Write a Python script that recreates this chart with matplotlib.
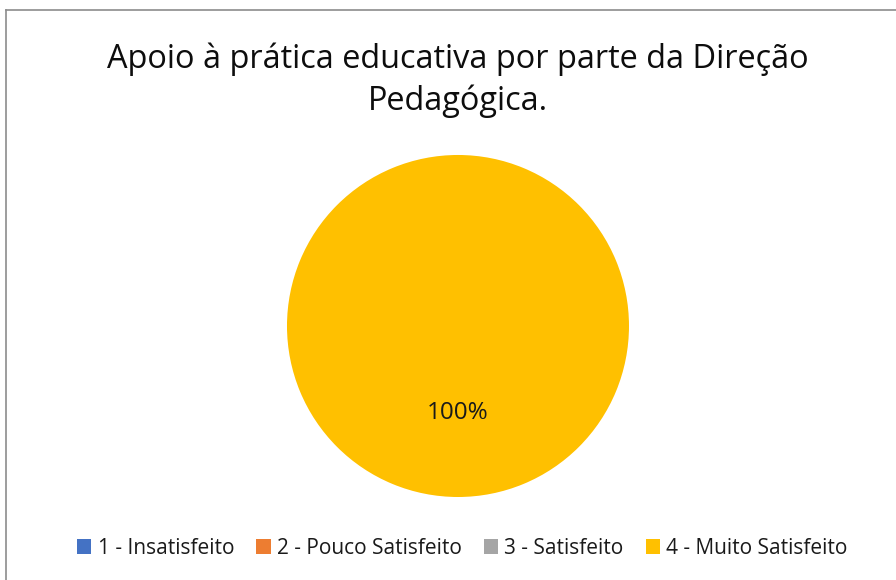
import matplotlib.pyplot as plt
import numpy as np
from matplotlib.patches import Patch
from matplotlib.lines import Line2D

# dados
categorias = ['1 - Insatisfeito', '2 - Pouco Satisfeito', '3 - Satisfeito', '4 - Muito Satisfeito']
valores = [0, 0, 0, 100]
cores = ['#4472C4', '#ED7D31', '#A5A5A5', '#FFC000']
titulo = 'Apoio à prática educativa por parte da Direção\nPedagógica.'

fig = plt.figure(figsize=(8.96, 5.8), dpi=100)

# moldura (so lado esquerdo e topo visiveis)
fig.add_artist(Line2D([6/896, 6/896], [0, 1 - 10/580], transform=fig.transFigure, color='#8c8c8c', lw=1.2))
fig.add_artist(Line2D([6/896, 1], [1 - 10/580, 1 - 10/580], transform=fig.transFigure, color='#8c8c8c', lw=1.2))

fig.text(0.511, 1 - 80/580, titulo, ha='center', va='center', fontsize=23.4,
         family=['Open Sans', 'DejaVu Sans'], color='#0d0d0d', linespacing=1.33)

ax = fig.add_axes([0.3203, 0.1431, 0.3817, 0.5897])

wedges = ax.pie(valores, colors=cores, startangle=90, counterclock=False,
                wedgeprops=dict(linewidth=0))[0]
tot = sum(valores)
for v, w in zip(valores, wedges):
    if v > 0:
        ang = np.deg2rad((w.theta1 + w.theta2) / 2)
        ax.text(0.51 * np.cos(ang), 0.51 * np.sin(ang), '%.0f%%' % (100 * v / tot), ha='center', va='center',
                fontsize=17.5, family=['Open Sans', 'DejaVu Sans'], color='#1a1a1a')
ax.set_xlim(-1, 1)
ax.set_ylim(-1, 1)
ax.set_aspect('auto')
ax.axis('off')

handles = [Patch(facecolor=c, edgecolor='none') for c in cores]
leg = fig.legend(handles, categorias, loc='center', bbox_to_anchor=(0.516, 1 - 548/580), ncol=4,
                 frameon=False, handlelength=0.7, handleheight=0.7, handletextpad=0.3,
                 columnspacing=1.05, prop={'family': ['Open Sans', 'DejaVu Sans'], 'size': 15})
for t in leg.get_texts():
    t.set_color('#1a1a1a')

fig.savefig('out.png', dpi=100)
